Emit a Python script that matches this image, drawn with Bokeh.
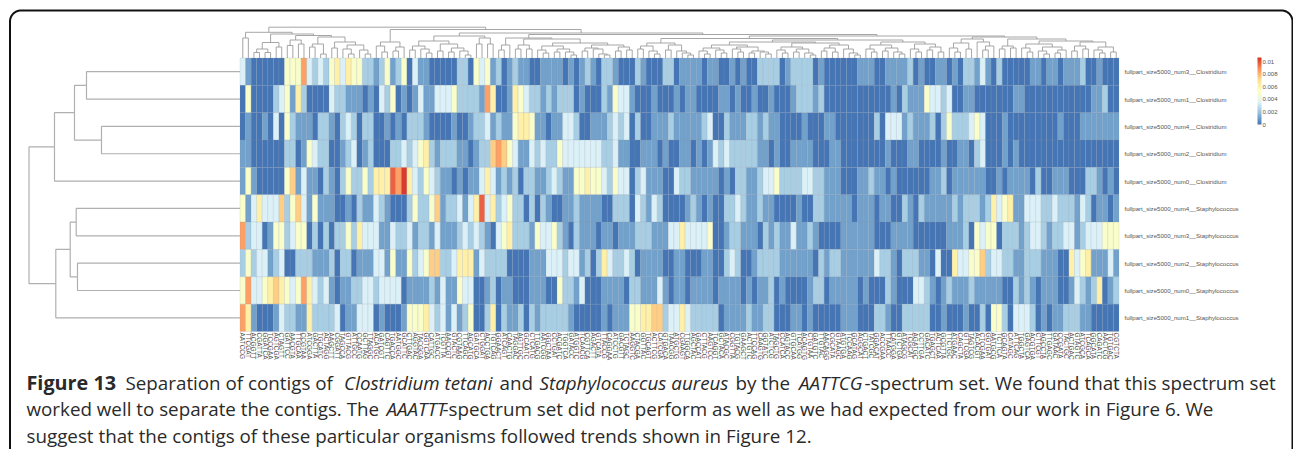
import numpy as np
from bokeh.core.properties import value
from bokeh.embed import file_html
from bokeh.models import ColorBar, ColumnDataSource, FixedTicker, LinearColorMapper, Range1d
from bokeh.plotting import figure
from bokeh.resources import INLINE

# ---------------- data ----------------
ROW_NAMES = [
    "fullpart_size5000_num3__Clostridium", "fullpart_size5000_num1__Clostridium",
    "fullpart_size5000_num4__Clostridium", "fullpart_size5000_num2__Clostridium",
    "fullpart_size5000_num0__Clostridium", "fullpart_size5000_num4__Staphylococcus",
    "fullpart_size5000_num3__Staphylococcus", "fullpart_size5000_num2__Staphylococcus",
    "fullpart_size5000_num0__Staphylococcus", "fullpart_size5000_num1__Staphylococcus",
]
# spectrum value bands
LEVEL_VALUES = [0.0, 0.00107, 0.0023, 0.0035, 0.0050, 0.0062, 0.0075, 0.0085, 0.0097, 0.0105]

row0 = [3,1,0,0,0,0,0,0,4,4,4,7,3,2,3,2,4,5,3,5,4,4,2,2,1,2,4,1,2,4,0,3,1,1,
        0,0,0,0,0,2,2,0,4,3,4,1,2,0,1,2,1,1,0,0,1,1,1,1,0,1,0,1,2,1,0,2,2,1,0,0,0,2,1,0,0,0,2,2,0,1,1,1,1,0,1,1,0,0,1,0,1,0,0,2,2,2,2,0,1,2,2,2,2,0,1,0,0,0,0,0,0,
        1,1,1,0,0,1,1,1,1,2,0,1,0,0,1,1,0,1,0,2,2,1,3,1,0,2,0,0,0,0,0,1,1,0,1,1,0,1,1,1,2,0,0,1,0,0,0]
row1 = [0,4,0,0,0,0,2,3,4,1,5,2,0,0,0,0,3,2,2,1,1,1,0,1,0,3,2,4,0,1,0,1,3,1,
        1,3,3,3,4,2,2,2,2,1,7,5,0,0,1,5,4,3,2,2,1,2,1,2,2,2,0,1,0,0,0,2,1,4,3,3,1,0,0,0,1,0,0,0,1,0,1,1,0,0,0,0,1,1,0,1,0,0,1,0,0,1,0,0,0,1,2,2,2,1,2,0,0,0,0,0,0,
        0,0,0,0,0,0,1,0,2,1,1,1,4,3,3,2,3,0,0,1,1,0,0,0,0,0,0,0,1,1,0,0,0,0,0,0,0,0,0,0,0,0,1,1,2,0,0]
row2 = [0,1,0,0,1,0,3,0,4,2,1,1,1,0,2,2,1,0,2,3,2,0,2,2,0,0,1,0,1,0,2,2,2,1,
        0,0,0,0,1,0,0,1,2,2,3,1,2,1,1,4,5,5,4,1,1,0,1,1,3,3,2,0,0,1,1,1,2,3,2,3,0,2,0,0,1,1,1,2,1,1,1,1,1,2,3,0,0,2,1,1,1,2,2,1,2,1,1,0,0,0,0,1,0,0,0,1,1,0,0,0,0,
        0,0,0,2,0,3,3,3,1,2,1,1,1,2,0,2,4,2,2,2,3,4,3,0,0,0,1,0,0,0,0,0,0,0,0,0,1,0,0,0,1,1,1,1,1,1,1]
row3 = [1,1,0,0,0,0,0,0,2,2,0,1,4,3,2,2,0,0,1,2,3,0,1,2,0,0,0,2,2,3,2,3,4,5,
        2,1,2,2,2,1,1,0,1,2,2,6,7,6,4,3,1,1,3,2,3,2,2,4,3,3,3,3,3,3,3,2,2,3,1,1,0,0,1,1,1,0,1,0,0,1,1,0,1,0,1,3,2,3,2,2,2,2,2,1,1,0,1,0,0,1,1,1,1,0,0,0,1,1,0,0,0,
        0,0,0,0,0,1,0,0,0,1,1,0,0,0,0,1,0,0,1,1,0,2,3,0,0,0,1,0,1,0,0,0,0,0,0,0,0,0,0,0,0,0,0,0,0,0,0]
row4 = [1,4,1,0,0,0,0,0,4,6,1,3,1,1,0,2,1,0,2,4,2,2,4,2,5,5,5,8,7,9,5,3,2,4,
        3,2,1,1,0,1,0,1,1,3,5,3,1,2,1,2,0,2,2,1,1,2,3,2,1,1,4,4,5,4,4,3,2,4,3,3,0,2,3,1,1,1,0,0,3,2,2,1,1,1,1,1,0,1,0,2,2,1,1,2,3,3,4,2,2,2,2,3,3,2,2,1,1,1,0,0,0,
        1,1,2,1,1,0,1,0,0,0,0,0,0,1,1,2,0,1,1,1,1,1,1,0,0,1,0,1,1,1,1,0,2,0,0,1,1,1,0,0,0,2,2,1,0,1,0]
row5 = [4,1,3,5,3,3,3,6,2,4,6,3,1,4,1,1,1,0,0,1,0,2,1,1,3,2,1,0,0,0,2,4,2,2,
        4,6,1,2,2,3,1,3,5,8,3,5,2,3,4,2,2,0,2,0,2,1,0,0,1,1,2,1,1,1,1,0,0,2,2,2,0,3,2,1,3,2,0,0,0,0,1,2,1,0,1,0,0,2,2,3,2,1,1,2,1,1,0,0,0,0,1,0,0,2,2,1,1,1,1,1,0,
        1,1,1,0,1,1,0,0,2,1,0,2,1,1,1,1,1,2,1,2,2,2,1,2,5,3,4,5,1,1,3,3,3,2,2,3,2,2,2,1,3,2,0,1,1,0,1]
row6 = [7,2,3,3,0,1,4,4,2,3,4,4,0,2,0,2,0,2,2,4,2,5,3,3,3,1,1,3,2,2,3,1,2,2,
        1,3,1,1,1,2,3,2,3,2,1,0,3,4,5,2,2,2,1,4,3,3,4,2,1,0,2,1,1,1,0,1,1,0,1,1,1,2,2,2,1,1,1,3,3,5,3,3,3,3,4,0,0,1,2,2,1,1,1,0,2,1,2,1,1,3,1,1,2,1,0,0,0,0,1,1,1,
        1,1,1,0,0,0,1,1,1,1,0,0,0,0,0,0,1,1,1,2,0,4,3,4,4,0,2,2,2,1,2,3,3,2,1,2,2,3,3,1,2,3,3,3,4,4,4]
row7 = [2,4,2,3,3,1,2,3,0,0,2,2,2,1,1,1,2,0,2,2,0,1,1,1,3,3,1,4,1,1,4,2,3,4,
        6,6,2,2,3,5,5,5,1,3,2,2,2,2,0,0,0,0,1,1,1,3,3,3,2,3,3,1,2,0,2,5,3,2,2,3,2,0,1,1,1,1,0,0,1,1,0,0,0,1,1,0,0,2,3,2,0,0,1,2,2,2,2,1,1,1,1,1,1,0,2,1,2,2,1,1,1,
        1,1,1,3,2,2,1,0,2,2,2,1,1,0,3,0,0,5,3,3,4,4,6,2,3,3,2,2,1,1,2,2,2,1,1,1,0,0,5,3,4,5,1,1,1,3,1]
row8 = [4,7,3,3,4,5,6,5,4,3,4,7,5,3,2,3,1,0,1,1,2,2,3,3,2,3,3,3,3,0,1,1,1,1,
        2,1,3,1,1,4,3,3,0,0,1,2,0,1,1,0,0,0,1,1,1,0,0,4,2,2,1,3,0,0,0,1,1,1,1,0,2,2,1,1,1,3,1,0,1,1,0,1,1,1,1,0,1,1,1,1,0,1,0,1,1,2,0,1,0,0,0,0,1,2,2,0,1,1,1,1,1,
        0,1,0,0,0,2,1,0,0,0,3,3,2,1,0,1,2,1,1,1,2,1,1,1,1,1,0,0,2,1,2,1,0,1,1,1,0,0,1,3,2,1,2,5,0,1,2]
row9 = [7,5,1,0,0,0,1,3,2,2,1,1,5,2,2,2,2,3,0,1,1,3,3,3,0,1,0,0,0,1,4,4,4,5,
        3,2,3,1,3,1,2,4,0,0,2,5,0,2,1,1,2,0,2,1,2,2,2,2,2,1,0,0,0,0,0,1,0,1,1,1,4,4,5,5,6,6,2,3,3,5,3,2,2,2,2,2,0,1,1,1,1,2,1,1,2,2,0,0,0,1,1,0,1,0,0,0,0,0,1,1,1,
        0,0,0,2,2,1,0,0,2,2,2,2,2,0,0,1,0,0,0,1,0,0,2,0,4,4,2,0,3,3,3,2,0,1,0,1,1,2,2,2,1,1,0,0,0,0,0]
LEVEL_ROWS = [row0, row1, row2, row3, row4, row5, row6, row7, row8, row9]

COL_LABELS = """
AATCCG TTCGAT ACGGTT CGATTA GGATCA TCCGAA AGTCGA CTAGTT GATTCC AACGTA TTGCAA CCGTAA ATCGGA GACTTA TGCATC ACTAGG
AAGCTT CGGATT TAGCCA GTTACG ATTGCC CCAATG GCTTAG TTAGGC ACATGC GATCGT CAGTTC TGACCA AATGGC GCATTC CTTGAC AGGTAC
TACGGA GGTCAA CATTGC ATGACC TCGTTA AACCGT GTACTC CGTAAG TTCAGC AGCATG GATGCA CTGGAT ACCTGA TGTCAG GGAACT ATCAGT
CAACTG TAGGAC AGTTGC GCAATC CTCATG TTGACG AATCGG GGCTAA CCTGAT ACGATC TGGTCA GATACC ATGGTC TCAACG CGTTCA AGACTT
GTCATA TTACCG CAGGAA ATCCTG GACGTT TCTAGC AAGGTC CTACGA GGTTAC TGCAGT ACTTCG CATCGA GTGACA TAACGG ATGCTG CGAAGT
TTGGCA AGCTAC GACCAT CTTACG AAGTCC TCAGGT GCTACA ATACGC CGGTTA TGTACG GAAGCT ACTGTC TTCCAG CAAGTG GGTATC ATCTCG
TAGCTG CCATCA AGTACC GTGCAA TCATGG ACAGTG CTGTAA GATGTC TTGTAC AACAGG CGCATA GTAAGC ATGTGA TCCAAG GCATAG AGGCAT
CTGACT TATCGC GGACAT ACCGAA TTAACC CATGGA GTCTGA ATAGCG TCGCAT AGATGC CCTTGA GACATC TGAGCT ACTCAA GCGTTA TTCTGC
ATGAAC CAGCTA GTTCGA TAGTCG ACACGT CTCGAA GGTGAT AATGCG TCTTCA GCAGTA CATAGC ATTCAG TGGCTA GAGTCA ACGTGA CTTCGT
AGCCTA TTGAGC GATAAC CCGATA TACTGC ACTGAC GTAGTC ATCGCA TCAGCA GGCATA CAGATC AACTCG TGTGAC CGTCTA
""".split()

# dendrogram of the rows: (merge height, upper child, lower child); 0 is a leaf
ROW_TREE = (211.0,
            (185.5, (165.5, (153.5, 0, 0), (138.5, 0, 0)), 0),
            (184.2, (169.8, (163.8, 0, 0), (162.5, 0, 0)), 0))

# dendrogram of the columns, read branch by branch
T_B = (15.5, (9, (5.5, 0, 0), (5.5, 0, 0)), (11, 0, 0))
T_C = (18, (12.5, 0, 0), (14, 0, 0))
T_D = (21, (14, (11, 0, 0), (4, 0, 0)), (16, (10, 0, 0), (13, (9, 0, (4, 0, 0)), (8, 0, (4, 0, 0)))))
T_A = (25.7, (20, 0, 0), (24, T_B, (22.5, T_C, T_D)))
T_E = (16, (12, 0, (6, 0, 0)), (11, (7, 0, 0), 0))
T_G1 = (17, (12, (8, 0, 0), (9, 0, (5, 0, 0))), (14, (7, 0, 0), (10, (6, 0, 0), (7, 0, (3, 0, 0)))))
T_G2 = (20, (14, 0, 0), (14, 0, 0))
T_G = (22, T_G1, T_G2)
T_H1R = (15, (12, (8, 0, (5, 0, 0)), (9, (6, 0, 0), (6, 0, (3, 0, 0)))),
         (13, (10, (7, 0, 0), (9, 0, (4, 0, (3, 0, 0)))), (11, (7, 0, 0), (8, 0, 0))))
T_H1 = (20, (13, (8, 0, 0), 0), (19, (13, (9, 0, 0), (9, 0, 0)), T_H1R))
T_LA = (15, (12, (9, 0, 0), (7, 0, (4, 0, 0))), (13, (8, 0, 0), (7, 0, (5, 0, (3, 0, 0)))))
T_X1 = (13, (10, (7, 0, (4, 0, 0)), (8, 0, (5, 0, 0))), (11, (9, 0, (6, 0, 0)), (7, (5, 0, 0), (6, 0, (4, 0, 0)))))
T_X2 = (15, (11, (8, 0, (5, 0, 0)), (9, (6, 0, 0), (5, 0, (3, 0, 0)))), (13, (10, (7, 0, 0), (6, 0, 0)), (9, 0, (5, 0, (3, 0, 0)))))
T_Y = (16, (13, (9, 0, (6, 0, 0)), (10, (7, 0, 0), (6, 0, (4, 0, 0)))), (14, (9, 0, (6, 0, 0)), (11, (8, 0, 0), (6, 0, 0))))
T_LB = (18, (16, T_X1, T_X2), T_Y)
T_RL = (19, (15, (10, 0, (6, 0, 0)), (9, 0, 0)), (16, 0, (12, (8, 0, 0), 0)))
T_RR = (19, (12, (9, 0, 0), (10, 0, 0)),
        (17, (14, (10, 0, (6, 0, 0)), (11, (7, 0, (4, 0, 0)), (8, (5, 0, 0), 0))),
         (16, (12, (7, 0, 0), (9, 0, 0)), (11, (8, 0, (5, 0, 0)), (6, 0, 0)))))
T_H2 = (22, (19.5, T_LA, T_LB), (21, T_RL, T_RR))
T_H = (23.5, T_H1, T_H2)
COL_TREE = (30.8, T_A, (28.5, T_E, (25, T_G, T_H)))

BAR_TICKS = [0, 0.002, 0.004, 0.006, 0.008, 0.01]

# caption: (line, x position, text, weight, italic)
CAPTION = [
    (0, 26, "Figure 13", "bold", "normal"),
    (0, 125, "Separation of contigs of", "normal", "normal"),
    (0, 343.6, "Clostridium tetani", "normal", "italic"),
    (0, 499, "and", "normal", "normal"),
    (0, 539, "Staphylococcus aureus", "normal", "italic"),
    (0, 735, "by the", "normal", "normal"),
    (0, 798.5, "AATTCG", "normal", "italic"),
    (0, 864, "-spectrum set. We found that this spectrum set", "normal", "normal"),
    (1, 26, "worked well to separate the contigs. The", "normal", "normal"),
    (1, 386, "AAATTT", "normal", "italic"),
    (1, 442, "-spectrum set did not perform as well as we had expected from our work in Figure 6. We", "normal", "normal"),
    (2, 26, "suggest that the contigs of these particular organisms followed trends shown in Figure 12.", "normal", "normal"),
]
CAPTION_Y = [382, 408, 435]
CAPTION_FONT = "Open Sans"

# ---------------- layout (pixels of the 1293x449 picture) ----------------
W, H = 1293, 449
PAGE_L, PAGE_T = 0, 0
PAGE_R, PAGE_B = PAGE_L + W, PAGE_T + H
HEAT_L, HEAT_R, HEAT_T, HEAT_B = 239.5, 1118.5, 57.5, 331.0
n_rows, n_cols = len(LEVEL_ROWS), len(row0)
bad = [len(r) for r in LEVEL_ROWS]
assert all(b == n_cols for b in bad), bad
CW, RH = (HEAT_R - HEAT_L) / n_cols, (HEAT_B - HEAT_T) / n_rows

PALETTE_ANCHORS = ["#4575b4", "#91bfdb", "#e0f3f8", "#ffffbf", "#fee090", "#fc8d59", "#d73027"]
def hex2rgb(c):
    return np.array([int(c[i:i + 2], 16) for i in (1, 3, 5)], float)
anch = np.array([hex2rgb(c) for c in PALETTE_ANCHORS])
pos = np.linspace(0, 1, 256)
palette = ["#%02x%02x%02x" % tuple(int(round(np.interp(t, np.linspace(0, 1, 7), anch[:, k]))) for k in range(3)) for t in pos]
mapper = LinearColorMapper(palette=palette, low=0, high=0.0107)

p = figure(width=W, height=H, output_backend="svg", toolbar_location=None,
           x_axis_type=None, y_axis_type=None, min_border=0,
           x_range=Range1d(PAGE_L, PAGE_R), y_range=Range1d(PAGE_B, PAGE_T),
           outline_line_color=None, background_fill_color="white", border_fill_color="white")
p.grid.visible = False
p.extra_x_ranges = {
    "cols": Range1d((PAGE_L - HEAT_L) / CW, (PAGE_R - HEAT_L) / CW),
    "rowdist": Range1d(HEAT_L - PAGE_L, HEAT_L - PAGE_R),
}
p.extra_y_ranges = {
    "rows": Range1d((PAGE_B - HEAT_T) / RH, (PAGE_T - HEAT_T) / RH),
    "coldist": Range1d(HEAT_T - PAGE_B, HEAT_T - PAGE_T),
}

# frame
a = np.linspace(0, np.pi / 2, 16)
R = 11.0
L_, T_, R_ = 9.5, 10.0, 1292.0
fx = [L_] + list(L_ + R - R * np.cos(a)) + list(R_ - R + R * np.sin(a)) + [R_]
fy = [PAGE_B + 10] + list(T_ + R - R * np.sin(a)) + list(T_ + R - R * np.cos(a)) + [PAGE_B + 10]
p.line(fx, fy, line_color="#111111", line_width=2)

# heat map
cx, cy, vals = [], [], []
for i, r in enumerate(LEVEL_ROWS):
    for j, lv in enumerate(r):
        cx.append(j + 0.5); cy.append(i + 0.5); vals.append(LEVEL_VALUES[lv])
src = ColumnDataSource(dict(x=cx, y=cy, v=vals))
p.rect("x", "y", width=1, height=1, source=src, x_range_name="cols", y_range_name="rows",
       fill_color={"field": "v", "transform": mapper}, line_color="#8c98a8", line_alpha=0.35, line_width=0.5)

# dendrograms
def walk(node, leaf_pos):
    """Return (position, height, segments) for a nested merge tuple."""
    if node == 0:
        leaf_pos[0] += 1
        return leaf_pos[0] - 0.5, 0.0, []
    h, l, r = node
    pl, hl, sl = walk(l, leaf_pos)
    pr, hr, sr = walk(r, leaf_pos)
    return (pl + pr) / 2, h, sl + sr + [([pl, pl, pr, pr], [hl, h, h, hr])]

_, _, segs = walk(COL_TREE, [0])
p.multi_line([s[0] for s in segs], [s[1] for s in segs], x_range_name="cols", y_range_name="coldist",
             line_color="#9c9c9c", line_width=0.9)
_, _, segs = walk(ROW_TREE, [0])
p.multi_line([s[1] for s in segs], [s[0] for s in segs], x_range_name="rowdist", y_range_name="rows",
             line_color="#b0b0b0", line_width=1.2)

# row and column labels
p.text([HEAT_R + 5.5] * n_rows, [i + 0.5 for i in range(n_rows)], text=ROW_NAMES, y_range_name="rows",
       text_font=value("Liberation Sans"), text_font_size="6.1px", text_color="#555555",
       text_baseline="middle", text_align="left")
p.text([j + 0.5 for j in range(len(COL_LABELS))], [HEAT_B + 1] * len(COL_LABELS), text=COL_LABELS,
       x_range_name="cols", angle=-np.pi / 2,
       text_font=value("Liberation Sans"), text_font_size="6.5px", text_color="#555555",
       text_baseline="middle", text_align="left")

# colour bar
cb = ColorBar(color_mapper=mapper, location=(1257 - PAGE_L, PAGE_B - 124), width=4, height=67,
              ticker=FixedTicker(ticks=BAR_TICKS), major_tick_line_color=None, bar_line_color=None,
              major_label_text_font="Liberation Sans", major_label_text_font_size="6px",
              major_label_text_color="#555555", label_standoff=1, padding=0,
              background_fill_color=None, border_line_color=None)
p.add_layout(cb)

# caption
for line, x, txt, weight, style in CAPTION:
    bold = weight == "bold"
    p.text([x], [CAPTION_Y[line]], text=[txt], text_font=value(CAPTION_FONT),
           text_font_size="19.8px" if bold else "18.8px",
           text_font_style="bold" if bold else style, text_color="#2a2a2a",
           text_baseline="middle", text_align="left")

open("out.html", "w").write(file_html(p, INLINE))
